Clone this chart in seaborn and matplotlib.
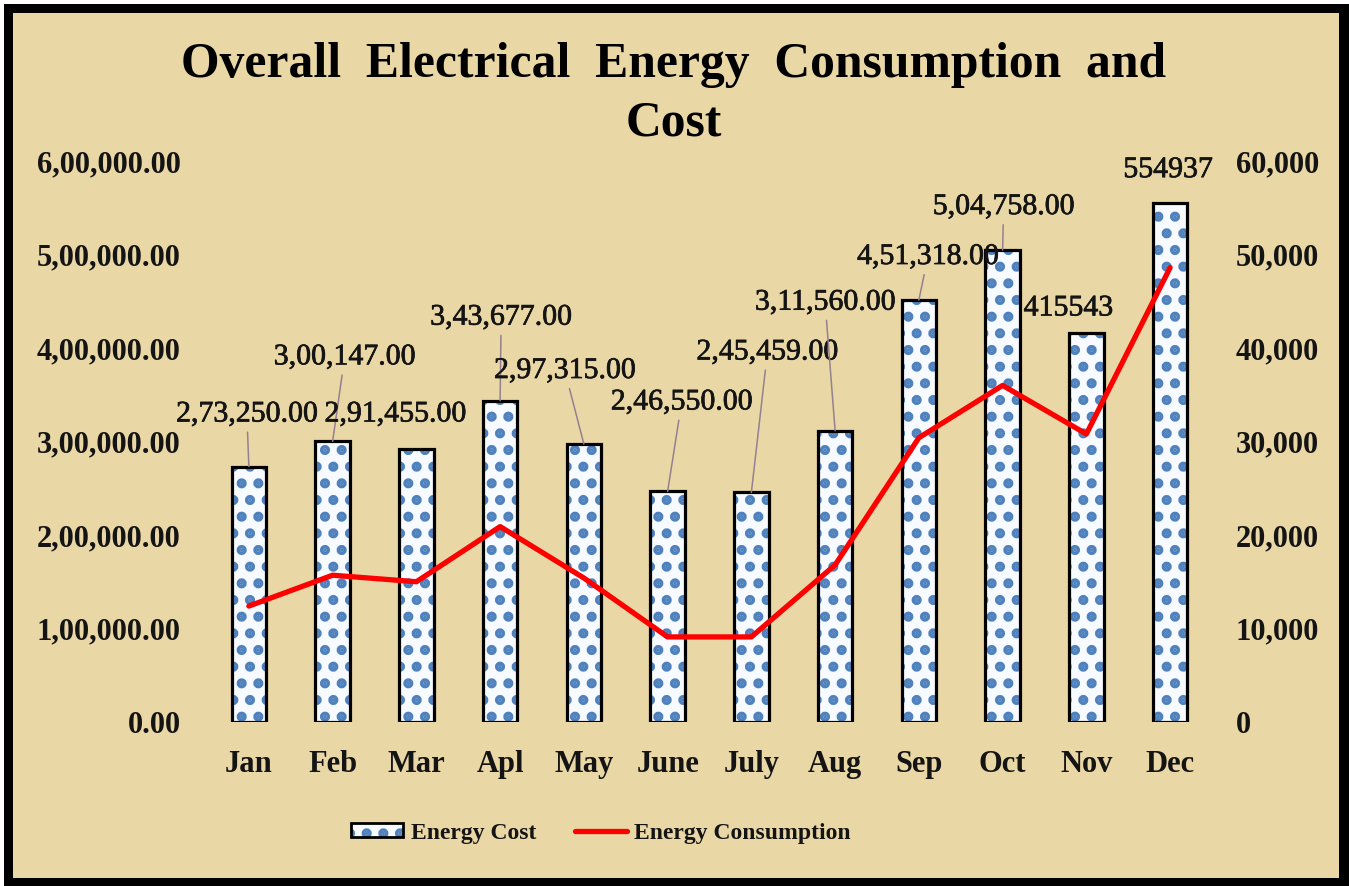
import seaborn as sns
import matplotlib.pyplot as plt
import matplotlib.patheffects as pe
import pandas as pd
import numpy as np
from matplotlib.patches import Rectangle, Patch
from matplotlib.lines import Line2D
from matplotlib.ticker import FuncFormatter, MultipleLocator

# --- data ---
months = ["Jan", "Feb", "Mar", "Apl", "May", "June", "July", "Aug", "Sep", "Oct", "Nov", "Dec"]
energy_cost = [273250, 300147, 291455, 343677, 297315, 246550, 245459, 311560, 451318, 504758, 415543, 554937]
energy_consumption = [12400, 15700, 15000, 20900, 15400, 9100, 9100, 16800, 30400, 36000, 30800, 48600]
plain_label_months = ["Nov", "Dec"]   # these two labels are shown without grouping

# label offsets (pixels: right, up) from each bar top, and whether a leader line is drawn
label_offsets = [(-2, 52), (12, 84), (-21, 35), (1, 83), (-19, 73), (14, 89),
                 (16, 140), (-10, 128), (9, 43), (1, 43), (-18, 25), (-2, 33)]
leader = [True, True, False, True, True, True, True, True, True, True, False, False]

df = pd.DataFrame({"Month": months, "Cost": energy_cost, "Consumption": energy_consumption})
df["pos"] = np.arange(len(df))


def indian_format(v, decimals=2):
    s = f"{v:.{decimals}f}"
    ip, fp = s.split(".") if "." in s else (s, "")
    if len(ip) > 3:
        head, tail = ip[:-3], ip[-3:]
        groups = []
        while len(head) > 2:
            groups.insert(0, head[-2:])
            head = head[:-2]
        if head:
            groups.insert(0, head)
        ip = ",".join(groups + [tail])
    return ip + ("." + fp if fp else "")


# --- styling ---
sns.set_style("white")
plt.rcParams["font.family"] = ["Liberation Serif", "DejaVu Serif"]
plt.rcParams["hatch.linewidth"] = 4.8

TAN = "#E9D7A6"
DOT_BLUE = "#4F81BD"
TEXT = "#141414"

fig = plt.figure(figsize=(13.49, 8.86), dpi=100)
fig.patch.set_facecolor("white")
# black frame + parchment panel
fig.patches.append(Rectangle((4 / 1349, 0), 1 - 4 / 1349, 1 - 4 / 886, transform=fig.transFigure,
                             facecolor="black", edgecolor="none", zorder=-20))
fig.patches.append(Rectangle((13 / 1349, 8 / 886), (1339 - 13) / 1349, (878 - 13) / 886,
                             transform=fig.transFigure, facecolor=TAN, edgecolor="none", zorder=-19))

ax = fig.add_axes([207 / 1349, 1 - 722 / 886, 1005 / 1349, (722 - 161) / 886])
ax.set_facecolor("none")

sns.barplot(data=df, x="Month", y="Cost", ax=ax, color="#F7FAFF", width=0.41,
            edgecolor="none", linewidth=0, saturation=1, zorder=2)

for p in list(ax.patches):
    x0, y0 = p.get_xy()
    w, h = p.get_width(), p.get_height()
    ax.add_patch(Rectangle((x0, y0), w, h, facecolor="none", edgecolor=DOT_BLUE,
                           hatch=".", lw=0, zorder=2.1))
    ax.add_patch(Rectangle((x0, y0), w, h, facecolor="none", edgecolor="black",
                           lw=2.3, zorder=2.2))

# data labels
for i, (m, v) in enumerate(zip(months, energy_cost)):
    txt = str(v) if m in plain_label_months else indian_format(v)
    dx, dy = label_offsets[i]
    arrow = dict(arrowstyle="-", color="#95808F", lw=1.1, shrinkA=1, shrinkB=0) if leader[i] else None
    t = ax.annotate(txt, xy=(i, v), xytext=(dx * 0.72, dy * 0.72), textcoords="offset points",
                    ha="center", va="center", fontsize=21.5, color=TEXT, arrowprops=arrow, zorder=5)
    t.set_path_effects([pe.withStroke(linewidth=0.5, foreground=TEXT)])

ax.set_ylim(0, 600000)
ax.set_xlim(-0.5, len(months) - 0.5)
ax.yaxis.set_major_locator(MultipleLocator(100000))
ax.yaxis.set_major_formatter(FuncFormatter(lambda v, _: indian_format(v)))
ax.set_xlabel("")
ax.set_ylabel("")
ax.tick_params(axis="y", length=0, pad=19, labelsize=22, labelcolor=TEXT)
ax.tick_params(axis="x", length=0, pad=20, labelsize=22, labelcolor=TEXT)
for lab in ax.get_yticklabels() + ax.get_xticklabels():
    lab.set_fontweight("bold")
for s in ax.spines.values():
    s.set_visible(False)

# secondary axis: consumption line
ax2 = ax.twinx()
ax2.set_facecolor("none")
sns.lineplot(data=df, x="pos", y="Consumption", ax=ax2, color="#FF0000", linewidth=3.8, zorder=4)
ax2.set_ylim(0, 60000)
ax2.set_xlim(-0.5, len(months) - 0.5)
ax2.yaxis.set_major_locator(MultipleLocator(10000))
ax2.yaxis.set_major_formatter(FuncFormatter(lambda v, _: f"{int(v):,}"))
ax2.set_ylabel("")
ax2.tick_params(axis="y", length=0, pad=17, labelsize=22, labelcolor=TEXT)
for lab in ax2.get_yticklabels():
    lab.set_fontweight("bold")
for s in ax2.spines.values():
    s.set_visible(False)

# title
fig.text(0.4996, 1 - 42 / 886, "Overall  Electrical  Energy  Consumption  and\nCost",
         ha="center", va="top", fontsize=35.7, fontweight="bold", color="black", linespacing=1.35)

# legend
cost_handle = (Patch(facecolor="#F7FAFF", edgecolor=DOT_BLUE, hatch=".", lw=0),
               Patch(facecolor="none", edgecolor="black", lw=2.0))
line_handle = Line2D([], [], color="#FF0000", lw=3.8)
fig.legend([cost_handle, line_handle], ["Energy Cost", "Energy Consumption"],
           loc="center", bbox_to_anchor=(601 / 1349, 1 - 833 / 886), ncol=2, frameon=False,
           prop={"size": 17, "weight": "bold"}, handlelength=2.2, handleheight=0.55,
           handletextpad=0.3, columnspacing=1.65, labelcolor=TEXT)

fig.savefig("out.png", dpi=100, facecolor=fig.get_facecolor())
plt.close(fig)
